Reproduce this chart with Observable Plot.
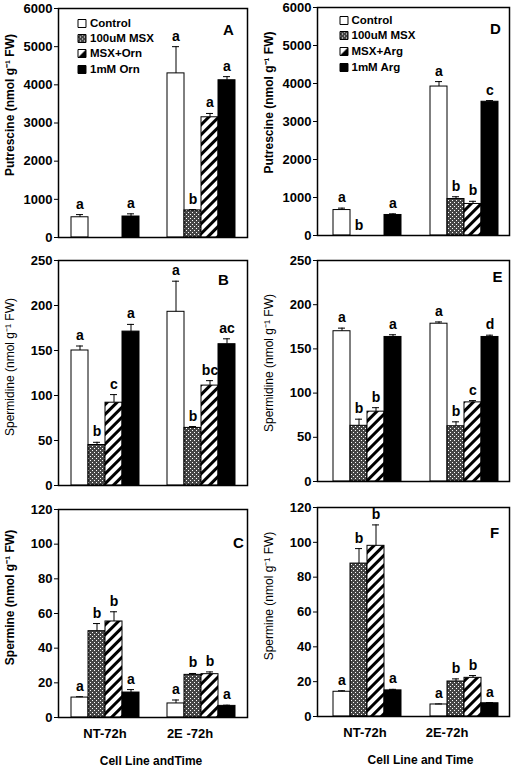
<!DOCTYPE html>
<html>
<head>
<meta charset="utf-8">
<script src="https://cdn.jsdelivr.net/npm/d3@7"></script>
<script src="https://cdn.jsdelivr.net/npm/@observablehq/plot@0.6"></script>
<style>
  body { margin: 0; background: #fff; }
  #fig { position: relative; width: 518px; height: 768px; overflow: hidden; background: #fff; }
</style>
</head>
<body>
<svg width="0" height="0" style="position:absolute">
  <defs>
    <pattern id="dots" width="4" height="4" patternUnits="userSpaceOnUse">
      <rect width="4" height="4" fill="#454545"/>
      <rect x="0" y="0" width="1" height="1" fill="#fff"/>
      <rect x="2" y="2" width="1" height="1" fill="#fff"/>
    </pattern>
    <pattern id="stripes" width="7" height="7" patternUnits="userSpaceOnUse" patternTransform="rotate(45)">
      <rect width="7" height="7" fill="#fff"/>
      <rect width="3" height="7" fill="#000"/>
    </pattern>
    <pattern id="half" width="1" height="1" patternUnits="objectBoundingBox" patternContentUnits="objectBoundingBox">
      <rect width="1" height="1" fill="#fff"/>
      <polygon points="1,0 1,1 0,1" fill="#000"/>
    </pattern>
  </defs>
</svg>
<div id="fig"></div>
<script>
// ---------- data ----------
const cellLinesOrn = ["NT-72h", "2E -72h"];
const cellLinesArg = ["NT-72h", "2E-72h"];
const treatmentsOrn = ["Control", "100uM MSX", "MSX+Orn", "1mM Orn"];
const treatmentsArg = ["Control", "100uM MSX", "MSX+Arg", "1mM Arg"];

// order: NT (4 treatments), then 2E (4 treatments)
const putrescineOrn = [530, null, null, 550, 4300, 710, 3150, 4120];
const putrescineOrnErr = [70, 0, 0, 70, 700, 20, 100, 95];
const putrescineOrnSig = ["a", "", "", "a", "a", "b", "a", "a"];

const putrescineArg = [670, 0, null, 540, 3920, 960, 830, 3520];
const putrescineArgErr = [50, 0, 0, 30, 130, 60, 70, 30];
const putrescineArgSig = ["a", "b", "", "a", "a", "b", "b", "c"];

const spermidineOrn = [150, 45, 92, 171, 193, 64, 111, 157];
const spermidineOrnErr = [5, 3, 9, 8, 34, 1.5, 5.5, 6];
const spermidineOrnSig = ["a", "b", "c", "a", "a", "b", "bc", "ac"];

const spermidineArg = [170, 63, 79, 163.5, 178.5, 62.5, 89.5, 163.5];
const spermidineArgErr = [3.5, 7.5, 4.5, 2.5, 2, 5, 2, 2];
const spermidineArgSig = ["a", "b", "b", "a", "a", "b", "c", "d"];

const spermineOrn = [11.5, 49.8, 55.4, 14.4, 8.1, 24.6, 25, 6.7];
const spermineOrnErr = [0.5, 4.4, 5.6, 1.7, 2, 0.8, 1.3, 0.4];
const spermineOrnSig = ["a", "b", "b", "a", "a", "b", "b", "a"];

const spermineArg = [14.2, 87.8, 98, 15, 6.9, 20.1, 22.2, 7.6];
const spermineArgErr = [0.6, 8.6, 12, 0.6, 0.3, 1.5, 1.3, 0.4];
const spermineArgSig = ["a", "b", "b", "a", "a", "b", "b", "a"];

const putTicks = [0, 1000, 2000, 3000, 4000, 5000, 6000];
const spdTicks = [0, 50, 100, 150, 200, 250];
const spmTicks = [0, 20, 40, 60, 80, 100, 120];

const fills = ["white", "url(#dots)", "url(#stripes)", "black"];
const legendFills = ["white", "url(#dots)", "url(#half)", "black"];
const FONT = "Liberation Sans, Arial, Helvetica, sans-serif";

function rowsFor(groups, treatments, values, errs, sig) {
  const rows = [];
  groups.forEach((g, gi) => treatments.forEach((t, ti) => {
    const k = gi * treatments.length + ti;
    rows.push({group: g, treatment: t, value: values[k], err: errs[k], letter: sig[k], fill: fills[ti]});
  }));
  return rows;
}

function panel(c) {
  const rows = rowsFor(c.groups, c.treatments, c.values, c.errs, c.sig).filter(d => d.value != null);
  const W = c.width - c.ml - c.mr;
  const step = (W + c.gap) / 2;
  const marks = [
    Plot.barY(rows.filter(d => d.value > 0), {fx: "group", x: "treatment", y: "value", fill: "fill", stroke: "black", strokeWidth: 1, inset: 0}),
    Plot.ruleX(rows.filter(d => d.err > 0), {fx: "group", x: "treatment", y1: "value", y2: d => d.value + d.err, stroke: "black", strokeWidth: 1}),
    Plot.tickY(rows.filter(d => d.err > 0), {fx: "group", x: "treatment", y: d => d.value + d.err, stroke: "black", strokeWidth: 1, insetLeft: 5, insetRight: 5}),
    Plot.text(rows.filter(d => d.letter), {fx: "group", x: "treatment", y: d => d.value + d.err, text: "letter", lineAnchor: "bottom", dy: -6, fontSize: 14, fontWeight: "bold", fill: "black"}),
    Plot.axisY({ticks: c.ticks, tickFormat: d => String(d), tickSize: 4, tickPadding: 2, fontSize: 13, fontWeight: "bold", label: null}),
    Plot.frame({facet: "super", stroke: "black", strokeWidth: 1.5}),
    Plot.text([c.letter], {facet: "super", frameAnchor: "top-right", textAnchor: "middle", lineAnchor: "middle", dx: c.letterDx, dy: c.letterDy, fontSize: 15, fontWeight: "bold", fill: "black"}),
    Plot.text([c.ylabel], {facet: "super", frameAnchor: "left", rotate: -90, textAnchor: "middle", lineAnchor: "middle", dx: -48, dy: c.ylabelDy, fontSize: 12, fontWeight: c.ylabelWeight, fill: "black"})
  ];
  if (c.legend) {
    c.treatments.forEach((t, i) => {
      marks.push(Plot.dot([t], {facet: "super", frameAnchor: "top-left", dx: c.legend.swatchDx, dy: c.legend.rows[i], symbol: "square", r: 4.5, fill: legendFills[i], stroke: "black", strokeWidth: 1}));
      marks.push(Plot.text([t], {facet: "super", frameAnchor: "top-left", textAnchor: "start", lineAnchor: "middle", dx: c.legend.textDx, dy: c.legend.rows[i], fontSize: 11.5, fontWeight: "bold", fill: "black"}));
    });
  }
  if (c.bottom) {
    c.groups.forEach((g, gi) => {
      marks.push(Plot.text([g], {fx: d => d, frameAnchor: "bottom", textAnchor: "middle", lineAnchor: "middle", dy: 16, dx: c.bottom.groupDx[gi], fontSize: 13, fontWeight: "bold", fill: "black"}));
    });
    marks.push(Plot.text([c.bottom.title], {facet: "super", frameAnchor: "bottom", textAnchor: "middle", lineAnchor: "middle", dy: 44, dx: c.bottom.titleDx, fontSize: 12, fontWeight: "bold", fill: "black"}));
  }
  const svg = Plot.plot({
    width: c.width, height: c.height,
    marginLeft: c.ml, marginRight: c.mr, marginTop: c.mt, marginBottom: c.mb,
    fx: {domain: c.groups, paddingInner: c.gap / step, paddingOuter: 0, axis: null, label: null},
    x: {domain: c.treatments, padding: 0, insetLeft: c.il, insetRight: c.ir, axis: null, label: null},
    y: {domain: c.domain, label: null},
    color: {type: "identity"},
    style: {fontFamily: FONT, background: "transparent", color: "black", overflow: "visible"},
    marks
  });
  svg.style.position = "absolute";
  svg.style.left = c.left + "px";
  svg.style.top = c.top + "px";
  document.getElementById("fig").appendChild(svg);
}

const L = {left: 0, width: 259, ml: 58, mr: 11, il: 12, ir: 11, gap: 3};
const R = {left: 259, width: 259, ml: 58, mr: 9, il: 14, ir: 10, gap: 2};

panel({...L, top: 0, height: 250, mt: 8, mb: 13, groups: cellLinesOrn, treatments: treatmentsOrn,
  values: putrescineOrn, errs: putrescineOrnErr, sig: putrescineOrnSig, domain: [0, 6000], ticks: putTicks,
  letter: "A", letterDx: -19, letterDy: 22, ylabel: "Putrescine (nmol g\u207B\u00B9 FW)", ylabelDy: -18, ylabelWeight: "bold",
  legend: {swatchDx: 23.5, textDx: 31.5, rows: [15, 30, 45, 61]}});

panel({...R, top: 0, height: 250, mt: 7, mb: 15, groups: cellLinesArg, treatments: treatmentsArg,
  values: putrescineArg, errs: putrescineArgErr, sig: putrescineArgSig, domain: [0, 6000], ticks: putTicks,
  letter: "D", letterDx: -14, letterDy: 22, ylabel: "Putrescine (nmol g\u207B\u00B9 FW)", ylabelDy: -19, ylabelWeight: "bold",
  legend: {swatchDx: 26.5, textDx: 34, rows: [13, 28, 44, 60]}});

panel({...L, top: 250, height: 250, mt: 10, mb: 15, groups: cellLinesOrn, treatments: treatmentsOrn,
  values: spermidineOrn, errs: spermidineOrnErr, sig: spermidineOrnSig, domain: [0, 250], ticks: spdTicks,
  letter: "B", letterDx: -24, letterDy: 20, ylabel: "Spermidine (nmol g\u207B\u00B9 FW)", ylabelDy: -6, ylabelWeight: "normal"});

panel({...R, top: 250, height: 250, mt: 10, mb: 19, groups: cellLinesArg, treatments: treatmentsArg,
  values: spermidineArg, errs: spermidineArgErr, sig: spermidineArgSig, domain: [0, 250], ticks: spdTicks,
  letter: "E", letterDx: -12, letterDy: 17, ylabel: "Spermidine (nmol g\u207B\u00B9 FW)", ylabelDy: -8, ylabelWeight: "normal"});

panel({...L, top: 500, height: 268, mt: 9, mb: 51, groups: cellLinesOrn, treatments: treatmentsOrn,
  values: spermineOrn, errs: spermineOrnErr, sig: spermineOrnSig, domain: [0, 120], ticks: spmTicks,
  letter: "C", letterDx: -9, letterDy: 34, ylabel: "Spermine (nmol g\u207B\u00B9 FW)", ylabelDy: -16, ylabelWeight: "bold",
  bottom: {groupDx: [0, -11], title: "Cell Line andTime", titleDx: -2}});

panel({...R, top: 500, height: 268, mt: 7, mb: 52, groups: cellLinesArg, treatments: treatmentsArg,
  values: spermineArg, errs: spermineArgErr, sig: spermineArgSig, domain: [0, 120], ticks: spmTicks,
  letter: "F", letterDx: -15, letterDy: 26, ylabel: "Spermine (nmol g\u207B\u00B9 FW)", ylabelDy: -16, ylabelWeight: "normal",
  bottom: {groupDx: [0, -15], title: "Cell Line and Time", titleDx: 7}});
</script>
</body>
</html>
